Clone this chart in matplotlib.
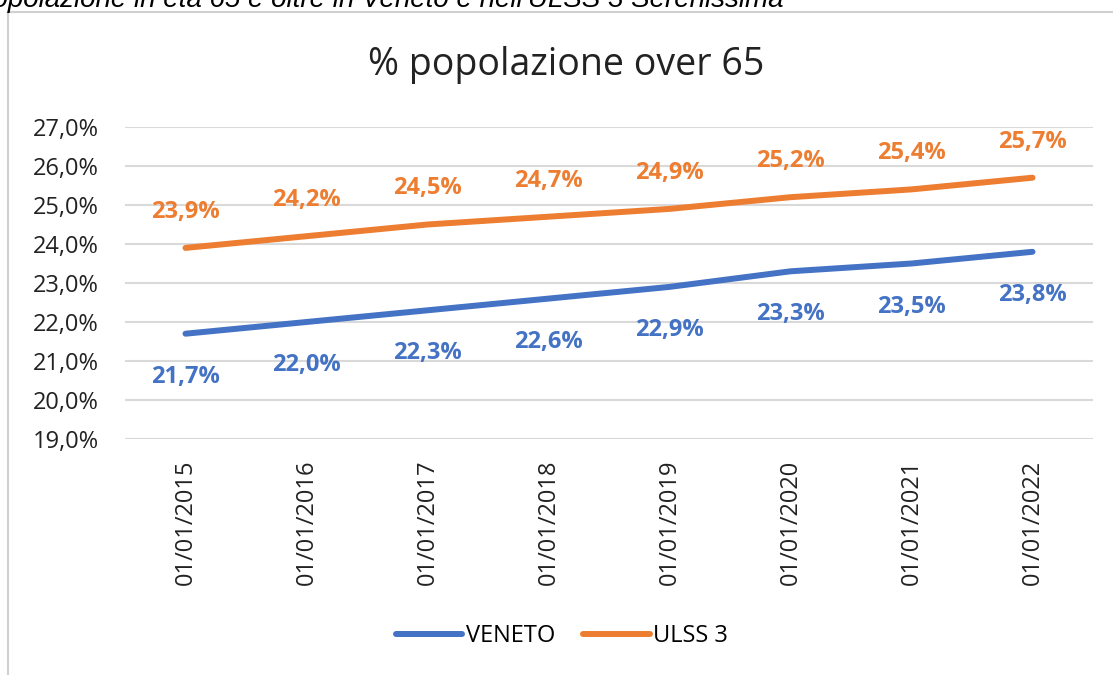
import matplotlib.pyplot as plt
from matplotlib.patches import Rectangle

dates = ["01/01/2015", "01/01/2016", "01/01/2017", "01/01/2018",
         "01/01/2019", "01/01/2020", "01/01/2021", "01/01/2022"]
veneto = [21.7, 22.0, 22.3, 22.6, 22.9, 23.3, 23.5, 23.8]
ulss3 = [23.9, 24.2, 24.5, 24.7, 24.9, 25.2, 25.4, 25.7]
yticks = [19, 20, 21, 22, 23, 24, 25, 26, 27]

blue = "#4472C4"
orange = "#ED7D31"

plt.rcParams['font.family'] = ['Open Sans', 'DejaVu Sans']

W, H = 1113, 675
fig = plt.figure(figsize=(W / 100, H / 100), dpi=100)

# grey frame of the chart object (cut on the right and bottom)
fig.patches.append(Rectangle((8 / W, -0.05), 1.2, 1 - 12 / H + 0.05,
                             transform=fig.transFigure, fill=False,
                             edgecolor="#D0D0D0", linewidth=1.5))

# caption of the document, cut by the crop
fig.text(783 / W, 1 - 7 / H,
         "Popolazione in età 65 e oltre in Veneto e nell'ULSS 3 Serenissima",
         ha="right", va="baseline", fontsize=20, style="italic", color="black",
         family="Liberation Sans")

ax = fig.add_axes([125 / W, 1 - 439 / H, 968 / W, 312 / H])
x = list(range(len(dates)))
ax.plot(x, veneto, color=blue, linewidth=4.3, solid_capstyle="round", label="VENETO")
ax.plot(x, ulss3, color=orange, linewidth=4.3, solid_capstyle="round", label="ULSS 3")

for i in x:
    ax.annotate(f"{veneto[i]:.1f}%".replace(".", ","), (i, veneto[i]),
                xytext=(0, -31), textcoords="offset points", ha="center", va="center",
                color=blue, fontsize=17, fontweight="bold")
    ax.annotate(f"{ulss3[i]:.1f}%".replace(".", ","), (i, ulss3[i]),
                xytext=(0, 26), textcoords="offset points", ha="center", va="center",
                color=orange, fontsize=17, fontweight="bold")

ax.set_xlim(-0.5, len(dates) - 0.5)
ax.set_ylim(19, 27)
ax.set_yticks(yticks)
ax.set_yticklabels([f"{v:.1f}%".replace(".", ",") for v in yticks], fontsize=17)
ax.set_xticks(x)
ax.set_xticklabels(dates, rotation=90, fontsize=17)
ax.tick_params(axis="y", length=0, pad=19, colors="#222222")
ax.tick_params(axis="x", length=0, pad=15, colors="#222222")
ax.grid(axis="y", color="#D9D9D9", linewidth=1.5)
ax.set_axisbelow(True)
for s in ax.spines.values():
    s.set_visible(False)

fig.text(566 / W, 1 - 65 / H, "% popolazione over 65", ha="center", va="center",
         fontsize=27, color="#222222")

fig.legend(loc="center", bbox_to_anchor=(562 / W, 1 - 636 / H), ncol=2,
           frameon=False, fontsize=17, handlelength=2.8, columnspacing=1.2,
           handletextpad=0.15)

fig.savefig("out.png", dpi=100)
